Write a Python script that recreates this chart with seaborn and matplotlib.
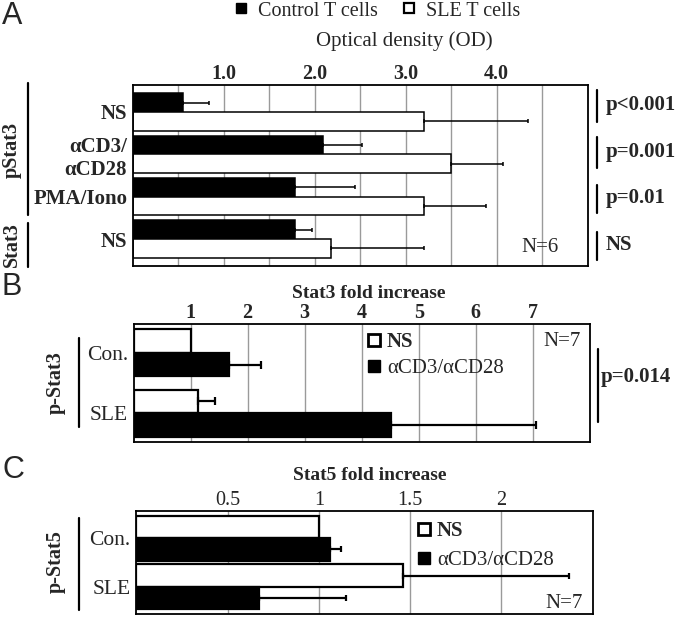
import numpy as np
import pandas as pd
import seaborn as sns
import matplotlib.pyplot as plt
from matplotlib.lines import Line2D
from matplotlib.ticker import FixedLocator

# ---- data -----------------------------------------------------------------
# Panel A: optical density of pStat3 / Stat3 in control and SLE T cells
a_conditions = ["pStat3 NS", "pStat3 aCD3/aCD28", "pStat3 PMA/Iono", "Stat3 NS"]
a_ticklabels = ["NS", "αCD3/\nαCD28", "PMA/Iono", "NS"]
a_control = [0.55, 2.09, 1.78, 1.78]
a_control_err = [0.29, 0.43, 0.66, 0.19]
a_sle = [3.20, 3.50, 3.20, 2.18]
a_sle_err = [1.14, 0.57, 0.68, 1.02]
a_pvalues = ["p<0.001", "p=0.001", "p=0.01", "NS"]
a_xticks = [0.5, 1.0, 1.5, 2.0, 2.5, 3.0, 3.5, 4.0, 4.5]
a_xticklabels = ["", "1.0", "", "2.0", "", "3.0", "", "4.0", ""]

# Panel B: Stat3 fold increase
b_groups = ["Con.", "SLE"]
b_ns = [1.00, 1.13]
b_ns_err = [0.0, 0.30]
b_cd = [1.67, 4.52]
b_cd_err = [0.57, 2.54]
b_xticks = [1, 2, 3, 4, 5, 6, 7]
b_xticklabels = ["1", "2", "3", "4", "5", "6", "7"]

# Panel C: Stat5 fold increase
c_groups = ["Con.", "SLE"]
c_ns = [1.00, 1.46]
c_ns_err = [0.0, 0.91]
c_cd = [1.06, 0.67]
c_cd_err = [0.06, 0.48]
c_xticks = [0.5, 1.0, 1.5, 2.0]
c_xticklabels = ["0.5", "1", "1.5", "2"]

# ---- style ----------------------------------------------------------------
sns.set_style("white")
plt.rcParams['font.family'] = ['Liberation Serif', 'DejaVu Serif']

W, H = 680, 621
fig = plt.figure(figsize=(W / 100, H / 100), dpi=100)


def fx(x):
    return x / W


def fy(y):
    return 1 - y / H


def box(left, top, right, bottom):
    return [fx(left), fy(bottom), fx(right) - fx(left), (bottom - top) / H]


def vline(x, y0, y1, lw=1.6):
    fig.add_artist(Line2D([fx(x), fx(x)], [fy(y0), fy(y1)], color="black",
                          lw=lw, transform=fig.transFigure))


def draw_bars(ax, df, x, y, hue, order, palette, width, lw, errs, elw, cap):
    sns.barplot(data=df, y=y, x=x, hue=hue, hue_order=order, palette=palette,
                edgecolor="black", linewidth=lw, width=width, errorbar=None,
                legend=False, orient="h", ax=ax)
    for container, err in zip(ax.containers, errs):
        for bar, e in zip(container, err):
            if e <= 0:
                continue
            yc = bar.get_y() + bar.get_height() / 2
            ax.errorbar(bar.get_width(), yc, xerr=[[0], [e]], fmt="none",
                        ecolor="black", elinewidth=elw, capsize=cap,
                        capthick=elw, zorder=1)


def style_axes(ax, xmax, ticks, labels, tick_weight, ylabels, ylab_size,
               ylab_weight, spine_lw=1.3):
    ax.set_xlim(0, xmax)
    ax.set_xticks(ticks)
    ax.set_xticklabels(labels, fontsize=14.5, fontweight=tick_weight)
    ax.xaxis.set_minor_locator(FixedLocator(ticks))
    ax.tick_params(axis="x", which="major", top=False, bottom=False,
                   labeltop=True, labelbottom=False, length=0, pad=1)
    ax.tick_params(axis="x", which="minor", top=False, bottom=True,
                   length=3, width=1, color="#888888")
    ax.set_yticks(range(len(ylabels)))
    ax.set_yticklabels(ylabels, fontsize=ylab_size, fontweight=ylab_weight)
    ax.tick_params(axis="y", length=0, pad=4)
    ax.grid(axis="x", which="major", color="#9a9a9a", linewidth=1.0)
    ax.set_axisbelow(True)
    ax.set_xlabel("")
    ax.set_ylabel("")
    for s in ax.spines.values():
        s.set_visible(True)
        s.set_color("black")
        s.set_linewidth(spine_lw)


# ---- panel A --------------------------------------------------------------
df_a = pd.DataFrame({
    "condition": a_conditions * 2,
    "cells": ["Control"] * 4 + ["SLE"] * 4,
    "od": a_control + a_sle,
})
ax_a = fig.add_axes(box(132.7, 85, 587.6, 266))
draw_bars(ax_a, df_a, "od", "condition", "cells", ["Control", "SLE"],
          {"Control": "black", "SLE": "white"}, 0.88, 1.1,
          [a_control_err, a_sle_err], 1.1, 1.5)
style_axes(ax_a, 5, a_xticks, a_xticklabels, "bold", a_ticklabels, 15, "bold")

fig.text(fx(2), fy(16), "A", family="Liberation Sans", fontsize=22,
         ha="left", va="center")
fig.text(fx(404), fy(41), "Optical density (OD)", fontsize=15,
         ha="center", va="center")
a_handles = [
    Line2D([], [], ls="none", marker="s", markersize=7.5, markerfacecolor="black",
           markeredgecolor="black", label="Control T cells"),
    Line2D([], [], ls="none", marker="s", markersize=7.5, markerfacecolor="white",
           markeredgecolor="black", markeredgewidth=1.6, label="SLE T cells"),
]
fig.legend(handles=a_handles, loc="center", ncol=2, frameon=False,
           bbox_to_anchor=(fx(377), fy(11)), fontsize=14.5, handlelength=0.7,
           handletextpad=0.5, columnspacing=1.2, borderpad=0)

fig.text(fx(12), fy(150), "pStat3", rotation=90, fontsize=14.5,
         fontweight="bold", ha="center", va="center")
vline(28, 83, 215)
fig.text(fx(12), fy(245), "Stat3", rotation=90, fontsize=14.5,
         fontweight="bold", ha="center", va="center")
vline(28, 223, 267)

for (y0, y1, yt), label in zip([(90, 122, 105), (137, 168, 152),
                                (185, 213, 198), (232, 260, 245)], a_pvalues):
    vline(597, y0, y1)
    fig.text(fx(606), fy(yt), label, fontsize=15, fontweight="bold",
             ha="left", va="center")
fig.text(fx(540), fy(247), "N=6", fontsize=15, ha="center", va="center")

# ---- panel B --------------------------------------------------------------
df_b = pd.DataFrame({
    "group": b_groups * 2,
    "stim": ["NS"] * 2 + ["aCD3/aCD28"] * 2,
    "fold": b_ns + b_cd,
})
ax_b = fig.add_axes(box(133.6, 324, 589.8, 442))
draw_bars(ax_b, df_b, "fold", "group", "stim", ["NS", "aCD3/aCD28"],
          {"NS": "white", "aCD3/aCD28": "black"}, 0.78, 1.6,
          [b_ns_err, b_cd_err], 1.6, 3)
style_axes(ax_b, 8, b_xticks, b_xticklabels, "bold", b_groups, 15.5, "normal")

fig.text(fx(2), fy(287), "B", family="Liberation Sans", fontsize=22,
         ha="left", va="center")
fig.text(fx(369), fy(294), "Stat3 fold increase", fontsize=14,
         fontweight="bold", ha="center", va="center")
fig.text(fx(56), fy(383), "p-Stat3", rotation=90, fontsize=14.5,
         fontweight="bold", ha="center", va="center")
vline(79, 338, 427)
vline(597.6, 349, 422)
fig.text(fx(601), fy(377), "p=0.014", fontsize=15, fontweight="bold",
         ha="left", va="center")
fig.text(fx(562), fy(342), "N=7", fontsize=15, ha="center", va="center")

bc_handles = [
    Line2D([], [], ls="none", marker="s", markersize=9, markerfacecolor="white",
           markeredgecolor="black", markeredgewidth=2, label="NS"),
    Line2D([], [], ls="none", marker="s", markersize=9, markerfacecolor="black",
           markeredgecolor="black", label="αCD3/αCD28"),
]
leg_b = fig.legend(handles=bc_handles, loc="upper left", frameon=False,
                   bbox_to_anchor=(fx(366), fy(332)), fontsize=15,
                   handlelength=0.8, handletextpad=0.2, labelspacing=0.3,
                   borderpad=0, borderaxespad=0)
leg_b.get_texts()[0].set_fontweight("bold")

# ---- panel C --------------------------------------------------------------
df_c = pd.DataFrame({
    "group": c_groups * 2,
    "stim": ["NS"] * 2 + ["aCD3/aCD28"] * 2,
    "fold": c_ns + c_cd,
})
ax_c = fig.add_axes(box(136.2, 511, 592.8, 614))
draw_bars(ax_c, df_c, "fold", "group", "stim", ["NS", "aCD3/aCD28"],
          {"NS": "white", "aCD3/aCD28": "black"}, 0.92, 1.6,
          [c_ns_err, c_cd_err], 1.6, 2.5)
style_axes(ax_c, 2.5, c_xticks, c_xticklabels, "normal", c_groups, 15.5, "normal")

fig.text(fx(2), fy(470), "C", family="Liberation Sans", fontsize=22,
         ha="left", va="center")
fig.text(fx(370), fy(475), "Stat5 fold increase", fontsize=14,
         fontweight="bold", ha="center", va="center")
fig.text(fx(56), fy(562), "p-Stat5", rotation=90, fontsize=14.5,
         fontweight="bold", ha="center", va="center")
vline(79, 518, 610)
fig.text(fx(564), fy(603), "N=7", fontsize=15, ha="center", va="center")

leg_c = fig.legend(handles=bc_handles, loc="upper left", frameon=False,
                   bbox_to_anchor=(fx(416), fy(521)), fontsize=15,
                   handlelength=0.8, handletextpad=0.2, labelspacing=0.45,
                   borderpad=0, borderaxespad=0)
leg_c.get_texts()[0].set_fontweight("bold")

fig.savefig("out.png", dpi=100)
